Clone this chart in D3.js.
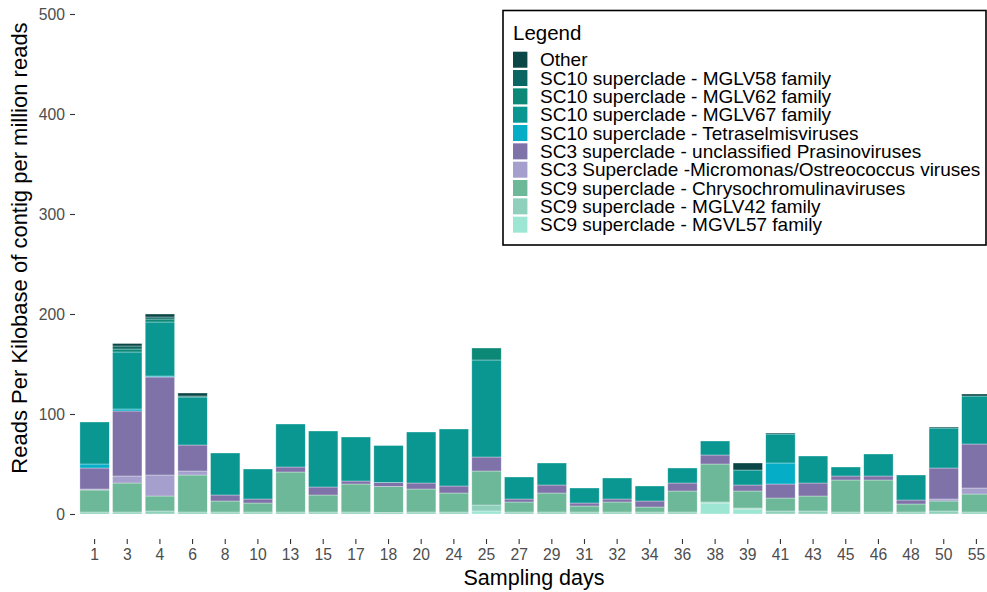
<!DOCTYPE html>
<html>
<head>
<meta charset="utf-8">
<script src="https://cdn.jsdelivr.net/npm/d3@7"></script>
<style>
  html, body { margin: 0; padding: 0; background: #ffffff; }
  svg { display: block; font-family: "Liberation Sans", Arial, Helvetica, sans-serif; }
</style>
</head>
<body>
<svg id="chart" width="987" height="592"></svg>
<script>
// Sampling days (x categories)
const days = ["1","3","4","6","8","10","13","15","17","18","20","24","25","27","29","31","32","34","36","38","39","41","43","45","46","48","50","55"];

// Viral groups, legend order (top of stack first)
const groups = [
  "Other",
  "SC10 superclade - MGLV58 family",
  "SC10 superclade - MGLV62 family",
  "SC10 superclade - MGLV67 family",
  "SC10 superclade - Tetraselmisviruses",
  "SC3 superclade - unclassified Prasinoviruses",
  "SC3 Superclade -Micromonas/Ostreococcus viruses",
  "SC9 superclade - Chrysochromulinaviruses",
  "SC9 superclade - MGLV42 family",
  "SC9 superclade - MGVL57 family"
];

const groupColors = ["#0b4747", "#0b6561", "#0c8877", "#0a9792", "#05adc6", "#7e72a9", "#a49fcc", "#6db898", "#8ed0bb", "#9de6d3"];

// RPKM per group, one value per sampling day
const other   = [0, 2.5, 3, 3, 0, 0, 0, 0, 0, 0, 0, 0, 0, 0, 0, 0, 0, 0, 0, 0, 7, 1, 0, 0, 0, 0, 1, 2];
const mglv58  = [0, 3, 2, 1, 0, 0, 0, 0, 0, 0, 0, 0, 0, 0, 0, 0, 0, 0, 0, 0, 0, 0, 0, 0, 0, 0, 0, 0];
const mglv62  = [0, 3, 3, 0, 0, 0, 0, 0, 0, 0, 0, 0, 12, 0, 0, 0, 0, 0, 0, 0, 0, 0, 0, 0, 0, 0, 0, 0];
const mglv67  = [42, 57, 54, 48, 42, 30, 43, 56, 44, 37, 51, 57, 97, 22, 22, 15, 21, 15, 15, 14, 15, 29, 27, 9, 22, 25, 40, 48];
const tetra   = [4, 2, 1, 0, 0, 0, 0, 0, 0, 0, 0, 0, 0, 0, 0, 0, 0, 0, 0, 0, 0, 21, 0, 0, 0, 0, 0, 0];
const sc3Uncl = [21, 65, 98, 26, 6, 4, 5, 8, 3, 4, 6, 7, 14, 3, 8, 3, 3, 6, 8, 9, 6, 14, 13, 4, 4, 4, 31, 44];
const sc3Micro= [1, 7, 21, 4, 0, 0, 0, 0, 0, 0, 0, 0, 0, 0, 0, 0, 0, 0, 0, 0, 0, 0, 0, 0, 0, 0, 2, 6];
const chryso  = [22, 29, 15, 37, 11, 9, 40, 17, 28, 26, 23, 19, 34, 10, 19, 6, 10, 5, 21, 38, 17, 13, 15, 32, 32, 8, 10, 18];
const mglv42  = [2, 2, 3, 2, 2, 2, 2, 2, 2, 1.5, 2, 2, 6, 2, 2, 2, 2, 2, 2, 1, 1, 3, 3, 2, 2, 2, 3, 2];
const mgvl57  = [0, 0, 0, 0, 0, 0, 0, 0, 0, 0, 0, 0, 3, 0, 0, 0, 0, 0, 0, 11, 5, 0, 0, 0, 0, 0, 0, 0];

const seriesValues = [other, mglv58, mglv62, mglv67, tetra, sc3Uncl, sc3Micro, chryso, mglv42, mgvl57];

// Axis ticks
const yTicks = [0, 100, 200, 300, 400, 500];

// Build one row per day for d3.stack
const rows = days.map((d, i) => {
  const r = { day: d };
  groups.forEach((g, k) => { r[g] = seriesValues[k][i]; });
  return r;
});

const svg = d3.select("#chart");
svg.append("rect").attr("width", 987).attr("height", 592).attr("fill", "#ffffff");

const x = d3.scaleBand().domain(days).range([75, 996]).paddingInner(0.1).paddingOuter(0.15);
const y = d3.scaleLinear().domain([0, 500]).range([514, 14]);
const color = d3.scaleOrdinal().domain(groups).range(groupColors);

// Stack from the bottom group upward (last legend entry sits at the base)
const stackKeys = groups.slice().reverse();
const stacked = d3.stack().keys(stackKeys)(rows);

svg.append("g").selectAll("g")
  .data(stacked)
  .join("g")
  .attr("fill", s => color(s.key))
  .selectAll("rect")
  .data(s => s.filter(p => p[1] - p[0] > 0))
  .join("rect")
  .attr("x", p => x(p.data.day))
  .attr("width", x.bandwidth())
  .attr("y", p => y(p[1]))
  .attr("height", p => y(p[0]) - y(p[1]))
  .attr("stroke", "#ffffff")
  .attr("stroke-opacity", 0.55)
  .attr("stroke-width", 0.6);

// Y axis: ticks and labels only
const yAxis = svg.append("g")
  .attr("transform", "translate(75,0)")
  .call(d3.axisLeft(y).tickValues(yTicks).tickSize(5).tickPadding(5).tickFormat(d3.format("d")));
yAxis.select(".domain").remove();
yAxis.selectAll(".tick line").attr("stroke", "#333333").attr("stroke-width", 1.1);
yAxis.selectAll(".tick text")
  .attr("fill", "#4d4d4d")
  .style("font-size", "15.7px")
  .style("font-family", "\"Liberation Sans\", Arial, sans-serif");

// X axis: ticks and labels only
const xAxis = svg.append("g")
  .attr("transform", "translate(0,539)")
  .call(d3.axisBottom(x).tickSize(5).tickPadding(5));
xAxis.select(".domain").remove();
xAxis.selectAll(".tick line").attr("stroke", "#333333").attr("stroke-width", 1.1);
xAxis.selectAll(".tick text")
  .attr("fill", "#4d4d4d")
  .style("font-size", "15.7px")
  .style("font-family", "\"Liberation Sans\", Arial, sans-serif");

// Axis titles
svg.append("text")
  .attr("x", 534)
  .attr("y", 585)
  .attr("text-anchor", "middle")
  .attr("fill", "#000000")
  .style("font-size", "21.5px")
  .text("Sampling days");

svg.append("text")
  .attr("transform", "translate(27,248) rotate(-90)")
  .attr("text-anchor", "middle")
  .attr("fill", "#000000")
  .style("font-size", "22px")
  .text("Reads Per Kilobase of contig per million reads");

// Legend box
const legend = svg.append("g");
legend.append("rect")
  .attr("x", 503).attr("y", 10.5)
  .attr("width", 483).attr("height", 234.5)
  .attr("fill", "#ffffff")
  .attr("stroke", "#000000")
  .attr("stroke-width", 1.6);

legend.append("text")
  .attr("x", 513).attr("y", 39.5)
  .attr("fill", "#000000")
  .style("font-size", "20.5px")
  .text("Legend");

const items = legend.selectAll("g.item")
  .data(groups)
  .join("g")
  .attr("class", "item")
  .attr("transform", (g, i) => `translate(513,${51.7 + i * 18.33})`);

items.append("rect")
  .attr("width", 14.4)
  .attr("height", 16)
  .attr("fill", g => color(g));

items.append("text")
  .attr("x", 27)
  .attr("y", 8)
  .attr("dy", "0.35em")
  .attr("fill", "#000000")
  .style("font-size", "19px")
  .text(g => g);
</script>
</body>
</html>
